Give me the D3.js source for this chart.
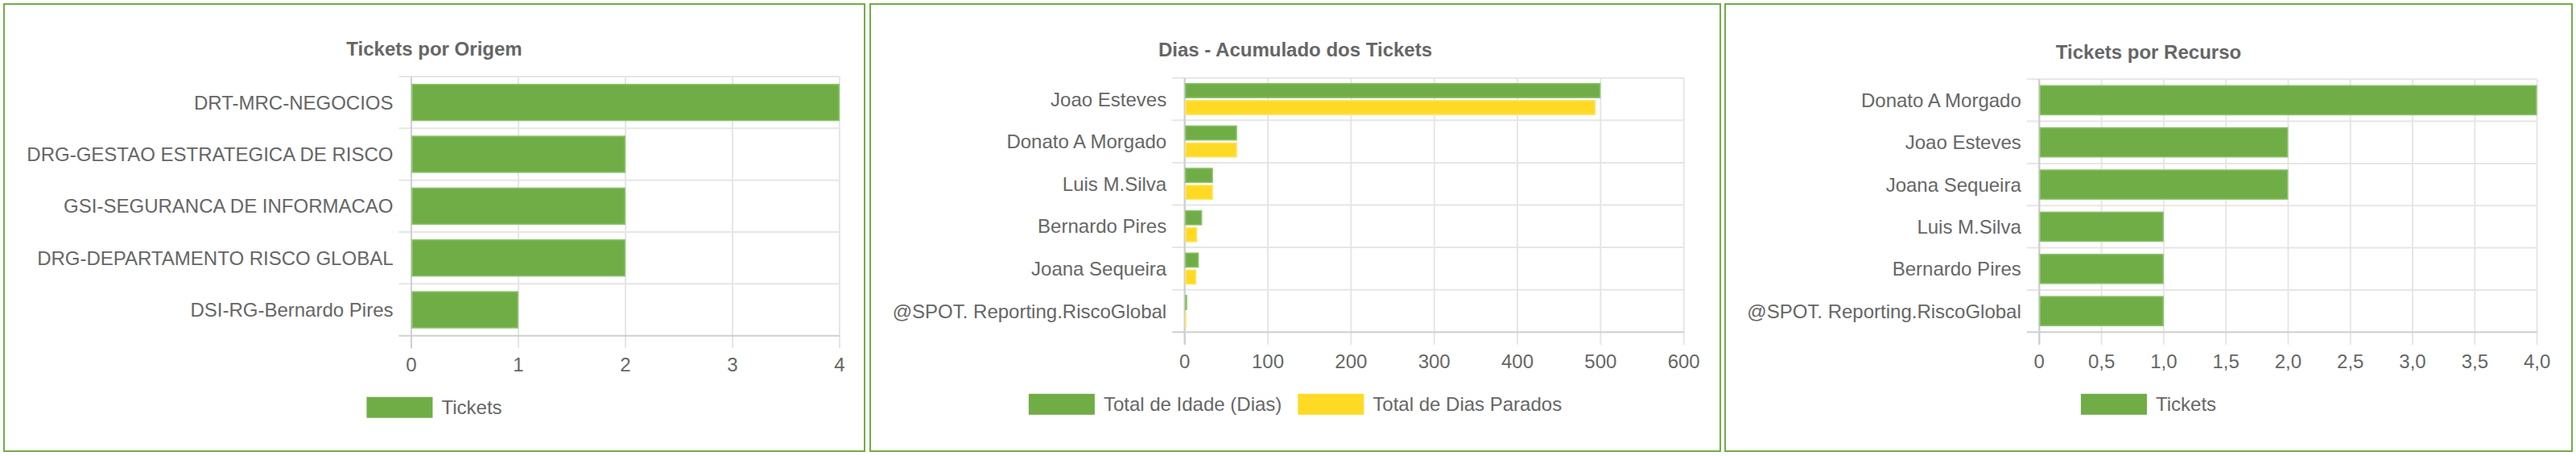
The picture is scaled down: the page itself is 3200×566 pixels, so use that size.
<!DOCTYPE html>
<html>
<head>
<meta charset="utf-8">
<script src="https://cdn.jsdelivr.net/npm/d3@7/dist/d3.min.js"></script>
<style>
  html, body { margin: 0; padding: 0; background: #fff; }
  svg { display: block; }
  text { font-family: "Liberation Sans", Arial, Helvetica, sans-serif; fill: #666; }
</style>
</head>
<body>
<svg id="chart" width="3200" height="566"></svg>
<script>
// ---------- DATA ----------
const origemCategories = ["DRT-MRC-NEGOCIOS", "DRG-GESTAO ESTRATEGICA DE RISCO", "GSI-SEGURANCA DE INFORMACAO", "DRG-DEPARTAMENTO RISCO GLOBAL", "DSI-RG-Bernardo Pires"];
const origemTickets = [4, 2, 2, 2, 1];
const origemTicks = [0, 1, 2, 3, 4];
const origemTickLabels = ["0", "1", "2", "3", "4"];

const diasCategories = ["Joao Esteves", "Donato A Morgado", "Luis M.Silva", "Bernardo Pires", "Joana Sequeira", "@SPOT. Reporting.RiscoGlobal"];
const diasIdade = [500, 63, 34, 21, 17, 3];
const diasParados = [494, 63, 34, 15, 14, 2];
const diasTicks = [0, 100, 200, 300, 400, 500, 600];
const diasTickLabels = ["0", "100", "200", "300", "400", "500", "600"];

const recursoCategories = ["Donato A Morgado", "Joao Esteves", "Joana Sequeira", "Luis M.Silva", "Bernardo Pires", "@SPOT. Reporting.RiscoGlobal"];
const recursoTickets = [4, 2, 2, 1, 1, 1];
const recursoTicks = [0, 0.5, 1, 1.5, 2, 2.5, 3, 3.5, 4];
const recursoTickLabels = ["0", "0,5", "1,0", "1,5", "2,0", "2,5", "3,0", "3,5", "4,0"];

const GREEN = "#70AD47", GREEN_EDGE = "#8cc46a";
const YELLOW = "#FFDA24", YELLOW_EDGE = "#ffe567";

// ---------- LAYOUT ----------
const panels = [
  { box: [5, 5, 1074, 560], title: "Tickets por Origem", titleY: 60,
    plot: { x0: 511, x1: 1043, y0: 95, y1: 416.7 }, tickY: 452, legendY: 505.7,
    categories: origemCategories, ticks: origemTicks, tickLabels: origemTickLabels, max: 4,
    series: [{ name: "Tickets", values: origemTickets, fill: GREEN, edge: GREEN_EDGE }] },
  { box: [1081, 5, 2137, 560], title: "Dias - Acumulado dos Tickets", titleY: 61.5,
    plot: { x0: 1471.7, x1: 2091.7, y0: 96.7, y1: 412.3 }, tickY: 448, legendY: 501.8,
    categories: diasCategories, ticks: diasTicks, tickLabels: diasTickLabels, max: 600,
    series: [{ name: "Total de Idade (Dias)", values: diasIdade, fill: GREEN, edge: GREEN_EDGE },
             { name: "Total de Dias Parados", values: diasParados, fill: YELLOW, edge: YELLOW_EDGE }] },
  { box: [2143, 5, 3195, 560], title: "Tickets por Recurso", titleY: 64,
    plot: { x0: 2533.3, x1: 3151.6, y0: 98.2, y1: 412.3 }, tickY: 448, legendY: 501.8,
    categories: recursoCategories, ticks: recursoTicks, tickLabels: recursoTickLabels, max: 4,
    series: [{ name: "Tickets", values: recursoTickets, fill: GREEN, edge: GREEN_EDGE }] }
];

const svg = d3.select("#chart");
const FS = 24;

panels.forEach(p => {
  const g = svg.append("g");
  const [bx0, by0, bx1, by1] = p.box;
  g.append("rect").attr("x", bx0).attr("y", by0).attr("width", bx1 - bx0).attr("height", by1 - by0)
    .attr("fill", "#fff").attr("stroke", "#70AD47").attr("stroke-width", 2);

  const cx = (bx0 + bx1) / 2;
  g.append("text").attr("x", cx).attr("y", p.titleY).attr("text-anchor", "middle")
    .attr("dominant-baseline", "central").attr("font-size", 24).attr("font-weight", "bold")
    .text(p.title);

  const x = d3.scaleLinear().domain([0, p.max]).range([p.plot.x0, p.plot.x1]);
  const y = d3.scaleBand().domain(p.categories).range([p.plot.y0, p.plot.y1]).padding(0);
  const bw = y.bandwidth();
  const sub = d3.scaleBand().domain(p.series.map(s => s.name))
    .range([0.1 * bw, 0.9 * bw]).paddingInner(0.1).paddingOuter(0.05);

  const TICK = 15.5;
  // vertical grid lines
  g.selectAll(".vg").data(p.ticks).join("line")
    .attr("x1", d => x(d)).attr("x2", d => x(d))
    .attr("y1", p.plot.y0).attr("y2", p.plot.y1 + TICK)
    .attr("stroke", d => d === 0 ? "#cfcfcf" : "#e6e6e6").attr("stroke-width", 2);
  // horizontal band boundaries
  const bounds = p.categories.map(c => y(c)).concat([p.plot.y1]);
  g.selectAll(".hg").data(bounds).join("line")
    .attr("x1", p.plot.x0 - TICK).attr("x2", p.plot.x1)
    .attr("y1", d => d).attr("y2", d => d)
    .attr("stroke", (d, i) => i === bounds.length - 1 ? "#cfcfcf" : "#e6e6e6").attr("stroke-width", 2);
  // zero axis again on top
  g.append("line").attr("x1", x(0)).attr("x2", x(0)).attr("y1", p.plot.y0).attr("y2", p.plot.y1 + TICK)
    .attr("stroke", "#cfcfcf").attr("stroke-width", 2);

  // bars
  p.series.forEach(s => {
    g.selectAll(null).data(p.categories).join("rect")
      .attr("x", x(0) + 1)
      .attr("y", c => y(c) + sub(s.name) + 0.75)
      .attr("width", (c, i) => Math.max(0, x(s.values[i]) - x(0) - 1.75))
      .attr("height", sub.bandwidth() - 1.5)
      .attr("fill", s.fill).attr("stroke", s.edge).attr("stroke-width", 1.5);
  });

  // category labels
  g.selectAll(".cl").data(p.categories).join("text")
    .attr("x", p.plot.x0 - TICK - 7).attr("y", c => y(c) + bw / 2)
    .attr("text-anchor", "end").attr("dominant-baseline", "central")
    .attr("font-size", FS).text(c => c);

  // tick labels
  g.selectAll(".tl").data(p.ticks).join("text")
    .attr("x", d => x(d)).attr("y", p.tickY)
    .attr("text-anchor", "middle").attr("dominant-baseline", "central")
    .attr("font-size", FS).text((d, i) => p.tickLabels[i]);

  // legend
  const BOXW = 82, BOXH = 26, GAP = 11, ITEMGAP = 20;
  const lg = g.append("g");
  let cur = 0;
  p.series.forEach(s => {
    lg.append("rect").attr("x", cur).attr("y", p.legendY - BOXH / 2).attr("width", BOXW).attr("height", BOXH)
      .attr("fill", s.fill);
    const t = lg.append("text").attr("x", cur + BOXW + GAP).attr("y", p.legendY)
      .attr("dominant-baseline", "central").attr("font-size", FS).text(s.name);
    cur += BOXW + GAP + t.node().getComputedTextLength() + ITEMGAP;
  });
  const totalW = cur - ITEMGAP;
  lg.attr("transform", `translate(${cx - totalW / 2},0)`);
});
</script>
</body>
</html>
